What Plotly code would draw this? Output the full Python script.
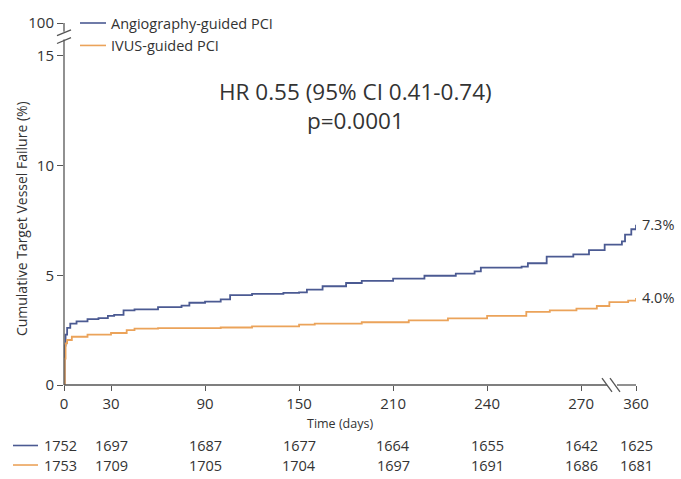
import plotly.graph_objects as go

# ---------------- data ----------------
angio_days = [0, 0.5, 1, 2, 4, 8, 15, 22, 28, 32, 38, 45, 60, 75, 80, 90, 100, 106, 120, 140, 150, 155, 165,
              180, 190, 210, 230, 250, 262, 266, 292, 296, 308, 325, 335, 345, 356, 358, 362, 365]
angio_pct = [0, 1.8, 2.3, 2.6, 2.8, 2.9, 3.0, 3.05, 3.15, 3.2, 3.4, 3.45, 3.55, 3.62, 3.75, 3.8, 3.9, 4.1, 4.15,
             4.2, 4.22, 4.35, 4.5, 4.65, 4.75, 4.85, 4.98, 5.08, 5.18, 5.35, 5.4, 5.55, 5.85, 5.95, 6.15, 6.4,
             6.55, 6.85, 7.1, 7.3]
ivus_days = [0, 0.5, 1, 2, 5, 15, 30, 40, 45, 60, 100, 120, 150, 160, 190, 220, 245, 270, 295, 310, 327, 340,
             348, 360, 365]
ivus_pct = [0, 1.2, 1.9, 2.05, 2.2, 2.3, 2.37, 2.5, 2.57, 2.59, 2.62, 2.67, 2.75, 2.8, 2.86, 2.95, 3.04, 3.15,
            3.33, 3.4, 3.48, 3.6, 3.78, 3.85, 3.97]

x_tick_pos = [0, 30, 90, 150, 210, 270, 330, 365]
x_tick_labels = ["0", "30", "90", "150", "210", "240", "270", "360"]
y_tick_pos = [0, 5, 10, 15, 16.5]
y_tick_labels = ["0", "5", "10", "15", "100"]

angio_risk = [1752, 1697, 1687, 1677, 1664, 1655, 1642, 1625]
ivus_risk = [1753, 1709, 1705, 1704, 1697, 1691, 1686, 1681]

end_labels = ["7.3%", "4.0%"]
names = ["Angiography-guided PCI", "IVUS-guided PCI"]

# ---------------- style ----------------
BLUE = "#4b5a92"
ORANGE = "#eba35a"
TXT = "#333333"
FONT = "Open Sans"
W, H = 681, 479
L, R, T, B = 64, 45, 14, 94
PW, PH = W - L - R, H - T - B


def px(xp):
    return (xp - L) / PW


def py(yp):
    return (H - B - yp) / PH


fig = go.Figure()
fig.add_trace(go.Scatter(x=angio_days, y=angio_pct, mode="lines", line=dict(color=BLUE, width=1.8, shape="hv"),
                         name=names[0], showlegend=False))
fig.add_trace(go.Scatter(x=ivus_days, y=ivus_pct, mode="lines", line=dict(color=ORANGE, width=1.8, shape="hv"),
                         name=names[1], showlegend=False))

shapes = []
axc = "#555555"
# y axis with break
shapes.append(dict(type="line", xref="paper", yref="paper", x0=px(64), x1=px(64), y0=py(385), y1=py(31),
                   line=dict(color=axc, width=1.3)))
shapes.append(dict(type="line", xref="paper", yref="paper", x0=px(64), x1=px(64), y0=py(23), y1=py(14),
                   line=dict(color=axc, width=1.3)))
for yy in (32, 24):
    shapes.append(dict(type="line", xref="paper", yref="paper", x0=px(57), x1=px(71), y0=py(yy + 3), y1=py(yy - 3),
                       line=dict(color=axc, width=1.3)))
# x axis with break
shapes.append(dict(type="line", xref="paper", yref="paper", x0=px(64), x1=px(607), y0=py(385), y1=py(385),
                   line=dict(color=axc, width=1.3)))
shapes.append(dict(type="line", xref="paper", yref="paper", x0=px(617), x1=px(636), y0=py(385), y1=py(385),
                   line=dict(color=axc, width=1.3)))
for xx in (607, 615):
    shapes.append(dict(type="line", xref="paper", yref="paper", x0=px(xx - 5), x1=px(xx + 5), y0=py(378),
                       y1=py(392), line=dict(color=axc, width=1.3)))
# legend samples
for i, (yy, c) in enumerate([(14, BLUE), (37, ORANGE)]):
    shapes.append(dict(type="line", xref="paper", yref="paper", x0=px(80), x1=px(106), y0=py(yy), y1=py(yy),
                       line=dict(color=c, width=1.6)))
# risk table samples
for yy, c in [(447, BLUE), (467, ORANGE)]:
    shapes.append(dict(type="line", xref="paper", yref="paper", x0=px(13), x1=px(38), y0=py(yy), y1=py(yy),
                       line=dict(color=c, width=1.6)))

ann = []
for i, yy in enumerate([14, 37]):
    ann.append(dict(xref="paper", yref="paper", x=px(109), y=py(yy), text=names[i], showarrow=False,
                    xanchor="left", yanchor="middle", font=dict(family=FONT, size=14.5, color=TXT)))
for row, yy in [(angio_risk, 447), (ivus_risk, 467)]:
    for xv, v in zip(x_tick_pos, row):
        ann.append(dict(xref="x", yref="paper", x=xv, y=py(yy), text=str(v), showarrow=False, xanchor="center",
                        yanchor="middle", xshift=-4 if xv == 0 else 0,
                        font=dict(family=FONT, size=14.5, color=TXT)))
ann.append(dict(xref="x", yref="y", x=angio_days[-1], y=angio_pct[-1], text=end_labels[0], showarrow=False,
                xanchor="left", yanchor="middle", xshift=4, font=dict(family=FONT, size=14.5, color=TXT)))
ann.append(dict(xref="x", yref="y", x=ivus_days[-1], y=ivus_pct[-1], text=end_labels[1], showarrow=False,
                xanchor="left", yanchor="middle", xshift=4, font=dict(family=FONT, size=14.5, color=TXT)))
ann.append(dict(xref="paper", yref="paper", x=px(355), y=py(99), text="HR 0.55 (95% CI 0.41-0.74)<br>p=0.0001",
                showarrow=False, xanchor="center", yanchor="middle", align="center",
                font=dict(family=FONT, size=22.5, color=TXT)))
ann.append(dict(xref="paper", yref="paper", x=px(340), y=py(424), text="Time (days)", showarrow=False,
                xanchor="center", yanchor="middle", font=dict(family=FONT, size=12.5, color=TXT)))
ann.append(dict(xref="paper", yref="paper", x=px(21), y=py(215), text="Cumulative Target Vessel Failure (%)",
                showarrow=False, textangle=-90, xanchor="center", yanchor="middle",
                font=dict(family=FONT, size=14, color=TXT)))

fig.update_layout(
    width=W, height=H, margin=dict(l=L, r=R, t=T, b=B),
    paper_bgcolor="white", plot_bgcolor="white",
    shapes=shapes, annotations=ann,
    xaxis=dict(range=[0, 365], showgrid=False, zeroline=False, showline=False, ticks="outside", ticklen=5,
               tickcolor=axc, tickwidth=1.3, tickvals=x_tick_pos, ticktext=x_tick_labels,
               tickfont=dict(family=FONT, size=15, color=TXT)),
    yaxis=dict(range=[0, 16.5], showgrid=False, zeroline=False, showline=False, ticks="outside", ticklen=6,
               tickcolor=axc, tickwidth=1.3, tickvals=y_tick_pos, ticktext=y_tick_labels,
               tickfont=dict(family=FONT, size=15, color=TXT)),
)
fig.write_html("out.html")
